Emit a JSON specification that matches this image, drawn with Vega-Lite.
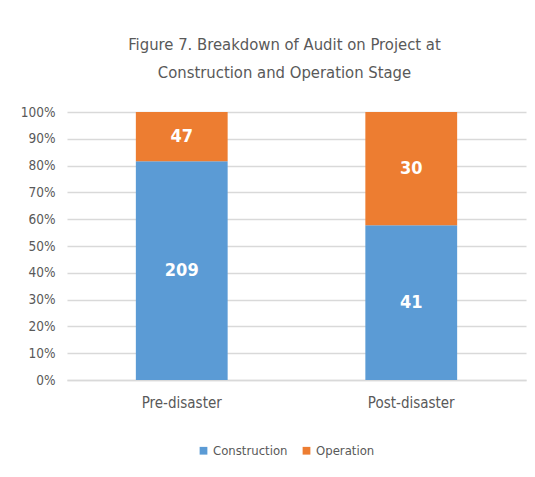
{
  "$schema": "https://vega.github.io/schema/vega-lite/v6.json",
  "width": 459,
  "height": 268,
  "autosize": "none",
  "padding": {"left": 67, "top": 112, "right": 9, "bottom": 97},
  "background": "white",
  "title": {
    "text": ["Figure 7. Breakdown of Audit on Project at", "Construction and Operation Stage"],
    "font": "DejaVu Sans Condensed, Liberation Sans, sans-serif",
    "fontSize": 16.5,
    "fontWeight": "normal",
    "color": "#595959",
    "lineHeight": 28,
    "anchor": "middle",
    "offset": 24,
    "dx": -12
  },
  "data": {
    "values": [
      {"stage": "Pre-disaster", "type": "Construction", "count": 209},
      {"stage": "Pre-disaster", "type": "Operation", "count": 47},
      {"stage": "Post-disaster", "type": "Construction", "count": 41},
      {"stage": "Post-disaster", "type": "Operation", "count": 30}
    ]
  },
  "transform": [
    {"stack": "count", "groupby": ["stage"], "sort": [{"field": "type", "order": "ascending"}], "offset": "normalize", "as": ["y0", "y1"]}
  ],
  "encoding": {
    "x": {
      "field": "stage",
      "type": "nominal",
      "sort": ["Pre-disaster", "Post-disaster"],
      "scale": {"paddingInner": 0.6, "paddingOuter": 0.3},
      "axis": {
        "title": null,
        "labelAngle": 0,
        "labelFont": "DejaVu Sans Condensed, Liberation Sans, sans-serif",
        "labelFontSize": 15,
        "labelColor": "#595959",
        "labelPadding": 15,
        "ticks": false,
        "domainColor": "#d9d9d9",
        "domainWidth": 1.5
      }
    }
  },
  "layer": [
    {
      "mark": {"type": "bar"},
      "encoding": {
        "y": {
          "field": "y0",
          "type": "quantitative",
          "scale": {"domain": [0, 1], "nice": false},
          "axis": {
            "title": null,
            "format": ".0%",
            "values": [0, 0.1, 0.2, 0.3, 0.4, 0.5, 0.6, 0.7, 0.8, 0.9, 1],
            "labelFont": "DejaVu Sans Condensed, Liberation Sans, sans-serif",
            "labelFontSize": 13.5,
            "labelColor": "#595959",
            "labelPadding": 12,
            "labelOverlap": false,
            "ticks": false,
            "domain": false,
            "gridColor": "#d9d9d9",
            "gridWidth": 1.5
          }
        },
        "y2": {"field": "y1"},
        "color": {
          "field": "type",
          "type": "nominal",
          "scale": {"domain": ["Construction", "Operation"], "range": ["#5B9BD5", "#ED7D31"]},
          "legend": {
            "title": null,
            "orient": "none",
            "legendX": 130,
            "legendY": 332,
            "direction": "horizontal",
            "symbolType": "square",
            "symbolSize": 60,
            "symbolStrokeWidth": 0,
            "labelFont": "DejaVu Sans Condensed, Liberation Sans, sans-serif",
            "labelFontSize": 13,
            "labelColor": "#595959",
            "labelOffset": 3,
            "columnPadding": 12
          }
        }
      }
    },
    {
      "transform": [
        {"fold": ["y0", "y1"], "as": ["edge", "pos"]}
      ],
      "mark": {"type": "text", "color": "white", "font": "DejaVu Sans Condensed, Liberation Sans, sans-serif", "fontSize": 18, "fontWeight": "bold", "baseline": "middle"},
      "encoding": {
        "y": {
          "field": "pos",
          "aggregate": "mean",
          "type": "quantitative",
          "scale": {"domain": [0, 1], "nice": false},
          "axis": {
            "title": null,
            "format": ".0%",
            "values": [0, 0.1, 0.2, 0.3, 0.4, 0.5, 0.6, 0.7, 0.8, 0.9, 1],
            "labelFont": "DejaVu Sans Condensed, Liberation Sans, sans-serif",
            "labelFontSize": 13.5,
            "labelColor": "#595959",
            "labelPadding": 12,
            "labelOverlap": false,
            "ticks": false,
            "domain": false,
            "gridColor": "#d9d9d9",
            "gridWidth": 1.5
          }
        },
        "detail": {"field": "type"},
        "text": {"field": "count", "type": "quantitative"}
      }
    }
  ],
  "config": {"view": {"stroke": null}}
}
